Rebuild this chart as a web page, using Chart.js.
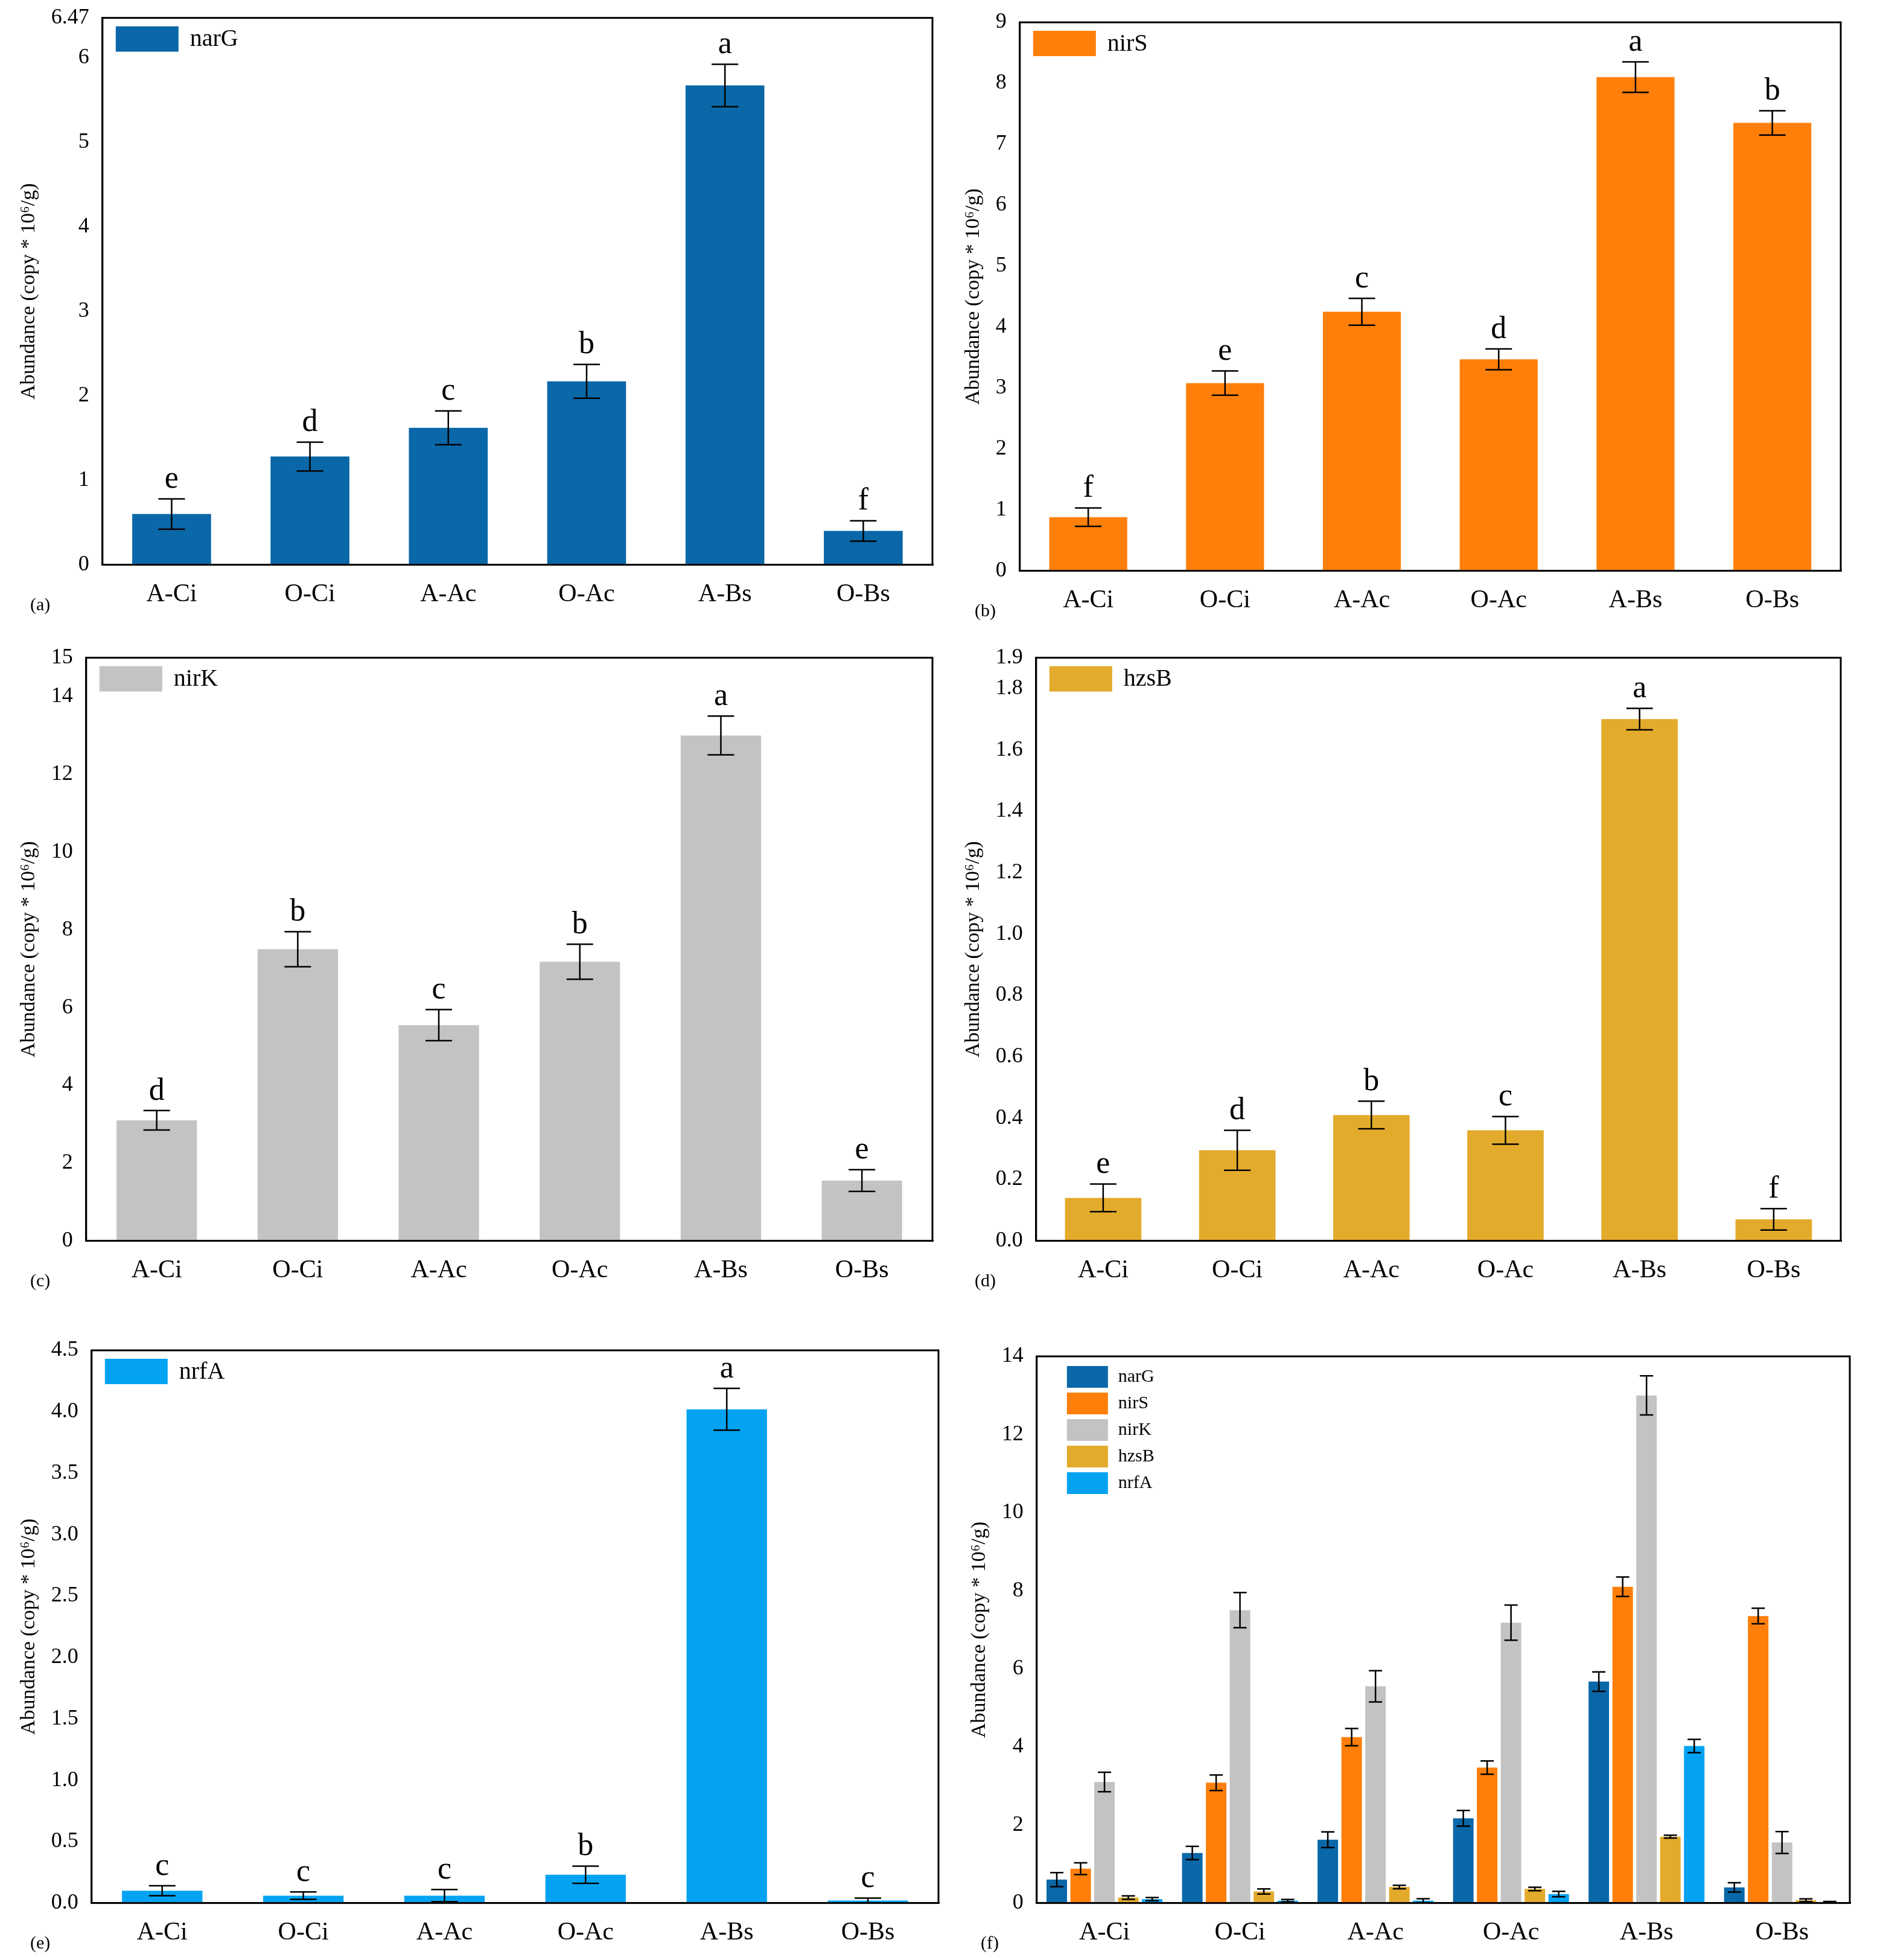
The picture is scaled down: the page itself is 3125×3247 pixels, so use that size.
<!DOCTYPE html>
<html><head><meta charset="utf-8">
<script src="https://cdn.jsdelivr.net/npm/chart.js@4"></script>
<style>
body{margin:0;background:#fff;width:3125px;height:3247px;position:relative;overflow:hidden}
canvas{position:absolute}
</style></head><body>
<canvas id="ca" style="left:0;top:0" width="1565" height="1050"></canvas>
<canvas id="cb" style="left:1565px;top:0" width="1560" height="1060"></canvas>
<canvas id="cc" style="left:0;top:1060px" width="1565" height="1110"></canvas>
<canvas id="cd" style="left:1565px;top:1060px" width="1560" height="1110"></canvas>
<canvas id="ce" style="left:0;top:2180px" width="1575" height="1067"></canvas>
<canvas id="cf" style="left:1575px;top:2180px" width="1550" height="1067"></canvas>
<script>
// categories and series
const sites = ["A-Ci", "O-Ci", "A-Ac", "O-Ac", "A-Bs", "O-Bs"];
const narG = [0.6, 1.28, 1.62, 2.17, 5.67, 0.4];
const narGErr = [0.18, 0.17, 0.2, 0.2, 0.25, 0.12];
const narGSig = ["e", "d", "c", "b", "a", "f"];
const nirS = [0.88, 3.08, 4.25, 3.47, 8.1, 7.35];
const nirSErr = [0.15, 0.2, 0.22, 0.17, 0.25, 0.2];
const nirSSig = ["f", "e", "c", "d", "a", "b"];
const nirK = [3.1, 7.5, 5.55, 7.18, 13.0, 1.55];
const nirKErr = [0.25, 0.45, 0.4, 0.45, 0.5, 0.28];
const nirKSig = ["d", "b", "c", "b", "a", "e"];
const hzsB = [0.14, 0.295, 0.41, 0.36, 1.7, 0.07];
const hzsBErr = [0.045, 0.065, 0.045, 0.045, 0.035, 0.035];
const hzsBSig = ["e", "d", "b", "c", "a", "f"];
const nrfA = [0.1, 0.06, 0.06, 0.23, 4.02, 0.02];
const nrfAErr = [0.04, 0.03, 0.05, 0.07, 0.17, 0.02];
const nrfASig = ["c", "c", "c", "b", "a", "c"];

const colors = {narG: "#0a67a8", nirS: "#ff7f0a", nirK: "#c3c3c3", hzsB: "#e3ab2c", nrfA: "#04a3f1"};
const FONT = "'Liberation Serif', 'DejaVu Serif', serif";

// error bars, significance letters, frame, legend box
const decor = {
    id: 'decor',
    afterDatasetsDraw(chart) {
        const ctx = chart.ctx, y = chart.scales.y, a = chart.chartArea;
        const o = chart.options.plugins.decor;
        ctx.save();
        ctx.strokeStyle = '#000';
        ctx.lineWidth = 2.5;
        chart.data.datasets.forEach((ds, di) => {
            const meta = chart.getDatasetMeta(di);
            meta.data.forEach((bar, i) => {
                const v = ds.data[i], e = ds.err[i];
                const t = y.getPixelForValue(v + e), b = y.getPixelForValue(Math.max(v - e, 0));
                const cw = o.cap;
                ctx.beginPath();
                ctx.moveTo(bar.x, t); ctx.lineTo(bar.x, b);
                ctx.moveTo(bar.x - cw, t); ctx.lineTo(bar.x + cw, t);
                ctx.moveTo(bar.x - cw, b); ctx.lineTo(bar.x + cw, b);
                ctx.stroke();
                if (ds.sig) {
                    ctx.fillStyle = '#000';
                    ctx.font = '52px ' + FONT;
                    ctx.textAlign = 'center';
                    ctx.textBaseline = 'bottom';
                    ctx.fillText(ds.sig[i], bar.x, t - 6);
                }
            });
        });
        ctx.lineWidth = 3;
        ctx.strokeRect(a.left, a.top, a.right - a.left, a.bottom - a.top);
        // legend
        ctx.textAlign = 'left';
        ctx.textBaseline = 'middle';
        if (o.multi) {
            chart.data.datasets.forEach((ds, di) => {
                const yy = a.top + 34 + di * 44;
                ctx.fillStyle = ds.backgroundColor;
                ctx.fillRect(a.left + 50, yy - 18, 68, 36);
                ctx.fillStyle = '#000';
                ctx.font = '30px ' + FONT;
                ctx.fillText(ds.label, a.left + 135, yy);
            });
        } else {
            const ds = chart.data.datasets[0];
            ctx.fillStyle = ds.backgroundColor;
            ctx.fillRect(a.left + 22, a.top + 14, 104, 42);
            ctx.fillStyle = '#000';
            ctx.font = '40px ' + FONT;
            ctx.fillText(ds.label, a.left + 145, a.top + 36);
        }
        // panel label
        ctx.font = '30px ' + FONT;
        ctx.fillText(o.tag, 50, a.bottom + 68);
        ctx.restore();
    }
};

function makeChart(id, datasets, ymax, step, tag, multi, pad) {
    new Chart(document.getElementById(id), {
        type: 'bar',
        data: {labels: sites, datasets: datasets},
        plugins: [decor],
        options: {
            responsive: false,
            animation: false,
            devicePixelRatio: 1,
            layout: {padding: pad},
            categoryPercentage: multi ? 0.88 : 0.57,
            barPercentage: multi ? 0.86 : 1,
            plugins: {
                legend: {display: false},
                tooltip: {enabled: false},
                decor: {tag: tag, multi: multi, cap: multi ? 11 : 22}
            },
            scales: {
                x: {
                    grid: {display: false, drawTicks: true, tickLength: 14, tickColor: '#000', lineWidth: 3, offset: true},
                    border: {color: '#000', width: 3},
                    ticks: {color: '#000', font: {family: FONT, size: 42}, padding: 10}
                },
                y: {
                    min: 0, max: ymax,
                    grid: {display: false, drawTicks: true, tickLength: 14, tickColor: '#000', lineWidth: 3},
                    border: {color: '#000', width: 3},
                    ticks: {stepSize: step, color: '#000', font: {family: FONT, size: 36}, padding: 8,
                        callback: v => step < 1 ? v.toFixed(1) : v},
                    title: {display: true, text: 'Abundance (copy * 10\u2076/g)', color: '#000',
                        font: {family: FONT, size: 34}, padding: 8}
                }
            }
        }
    });
}

function single(label, vals, err, sig) {
    return [{label: label, data: vals, err: err, sig: sig, backgroundColor: colors[label]}];
}

makeChart('ca', single('narG', narG, narGErr, narGSig), 6.47, 1, '(a)', false, {left: 20, right: 20, top: 25, bottom: 30});
makeChart('cb', single('nirS', nirS, nirSErr, nirSSig), 9, 1, '(b)', false, {left: 20, right: 75, top: 37, bottom: 30});
makeChart('cc', single('nirK', nirK, nirKErr, nirKSig), 15, 2, '(c)', false, {left: 20, right: 20, top: 25, bottom: 30});
makeChart('cd', single('hzsB', hzsB, hzsBErr, hzsBSig), 1.9, 0.2, '(d)', false, {left: 20, right: 75, top: 29, bottom: 30});
makeChart('ce', single('nrfA', nrfA, nrfAErr, nrfASig), 4.5, 0.5, '(e)', false, {left: 20, right: 20, top: 57, bottom: 10});
makeChart('cf', [
    {label: 'narG', data: narG, err: narGErr, backgroundColor: colors.narG},
    {label: 'nirS', data: nirS, err: nirSErr, backgroundColor: colors.nirS},
    {label: 'nirK', data: nirK, err: nirKErr, backgroundColor: colors.nirK},
    {label: 'hzsB', data: hzsB, err: hzsBErr, backgroundColor: colors.hzsB},
    {label: 'nrfA', data: nrfA, err: nrfAErr, backgroundColor: colors.nrfA}
], 14, 2, '(f)', true, {left: 20, right: 60, top: 67, bottom: 10});
</script>
</body></html>
